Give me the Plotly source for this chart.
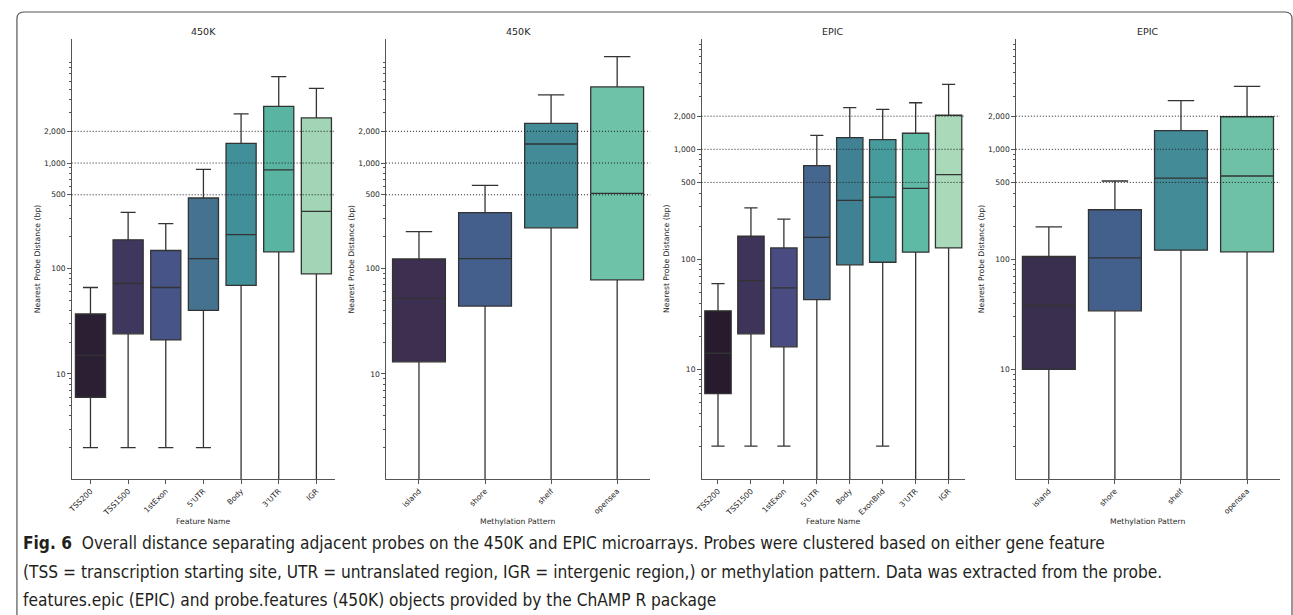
import plotly.graph_objects as go

W, H = 1293, 615

# ---------------- data ----------------
# Panel 1: 450K, gene feature
feat450_cats = ["TSS200", "TSS1500", "1stExon", "5'UTR", "Body", "3'UTR", "IGR"]
feat450_lower = [2, 2, 2, 2, 0, 0, 0]
feat450_q1 = [6.0, 24, 21, 40, 69, 144, 89]
feat450_median = [15, 72, 66, 124, 209, 860, 348]
feat450_q3 = [37, 187, 148, 466, 1540, 3450, 2680]
feat450_upper = [66, 340, 266, 870, 2930, 6610, 5120]
feat450_colors = ["#2b1f33", "#3f375e", "#465487", "#44728f", "#418f98", "#59b4a1", "#a2d5b5"]

# Panel 2: 450K, methylation pattern
meth450_cats = ["island", "shore", "shelf", "opensea"]
meth450_lower = [0, 0, 0, 0]
meth450_q1 = [13, 44, 243, 78]
meth450_median = [52, 124, 1517, 515]
meth450_q3 = [123, 338, 2380, 5280]
meth450_upper = [224, 614, 4440, 10240]
meth450_colors = ["#3c2f50", "#445f8c", "#428b97", "#6dc2a7"]

# Panel 3: EPIC, gene feature
featEPIC_cats = ["TSS200", "TSS1500", "1stExon", "5'UTR", "Body", "ExonBnd", "3'UTR", "IGR"]
featEPIC_lower = [2, 2, 2, 0, 0, 2, 0, 0]
featEPIC_q1 = [6.0, 21, 16, 43, 89, 94, 116, 127]
featEPIC_median = [14, 64, 55, 158, 344, 368, 442, 588]
featEPIC_q3 = [34, 162, 127, 710, 1275, 1222, 1400, 2040]
featEPIC_upper = [60, 294, 232, 1340, 2390, 2310, 2650, 3890]
featEPIC_colors = ["#271b2d", "#3e3358", "#484c80", "#45668e", "#418194", "#469c9d", "#5fbaa5", "#a9d9b9"]

# Panel 4: EPIC, methylation pattern
methEPIC_cats = ["island", "shore", "shelf", "opensea"]
methEPIC_lower = [0, 0, 0, 0]
methEPIC_q1 = [10, 34, 121, 117]
methEPIC_median = [38, 103, 548, 572]
methEPIC_q3 = [106, 282, 1476, 1977]
methEPIC_upper = [197, 515, 2770, 3740]
methEPIC_colors = ["#3b2f4f", "#435f8c", "#438b97", "#6ec1a6"]

panel_titles = ["450K", "450K", "EPIC", "EPIC"]
x_titles = ["Feature Name", "Methylation Pattern", "Feature Name", "Methylation Pattern"]
y_title = "Nearest Probe Distance (bp)"
ytick_vals = [10, 100, 500, 1000, 2000]
ytick_text = ["10", "100", "500", "1,000", "2,000"]
ref_lines = [500, 1000, 2000]
y_log_top = [4.174, 4.174, 4.0, 4.0]

caption_lines = [
    "<b>Fig. 6</b>  Overall distance separating adjacent probes on the 450K and EPIC microarrays. Probes were clustered based on either gene feature",
    "(TSS = transcription starting site, UTR = untranslated region, IGR = intergenic region,) or methylation pattern. Data was extracted from the probe.",
    "features.epic (EPIC) and probe.features (450K) objects provided by the ChAMP R package",
]

panels = [
    (feat450_cats, feat450_lower, feat450_q1, feat450_median, feat450_q3, feat450_upper, feat450_colors),
    (meth450_cats, meth450_lower, meth450_q1, meth450_median, meth450_q3, meth450_upper, meth450_colors),
    (featEPIC_cats, featEPIC_lower, featEPIC_q1, featEPIC_median, featEPIC_q3, featEPIC_upper, featEPIC_colors),
    (methEPIC_cats, methEPIC_lower, methEPIC_q1, methEPIC_median, methEPIC_q3, methEPIC_upper, methEPIC_colors),
]

# ---------------- layout geometry (pixels) ----------------
x_doms_px = [(65, 330), (381, 646.7), (698.3, 963.3), (1014.3, 1280)]
y_top_px, y_bot_px = 39.3, 479.3


def px(x):
    return x / W


def py(y):
    return 1 - y / H


FONT = "DejaVu Sans, Liberation Sans, sans-serif"
TXT = "#262626"
AX = "#555555"
EDGE = "#333333"

fig = go.Figure()
annotations = []
shapes = []

minor_vals = [m * 10 ** e for e in range(0, 5) for m in range(2, 10)]

for i, (cats, lo, q1, med, q3, up, cols) in enumerate(panels):
    k = i + 1
    xa = "x" if k == 1 else f"x{k}"
    ya = "y" if k == 1 else f"y{k}"
    for j, c in enumerate(cats):
        # a lower whisker of 0 cannot be shown on a log axis: it runs off the bottom
        lf = lo[j] if lo[j] > 0 else 0.1
        fig.add_trace(go.Box(
            x=[c], q1=[q1[j]], median=[med[j]], q3=[q3[j]],
            lowerfence=[lf], upperfence=[up[j]],
            fillcolor=cols[j], line=dict(color=EDGE, width=1.3),
            width=0.8, whiskerwidth=0.5, boxpoints=False,
            xaxis=xa, yaxis=ya, showlegend=False, hoverinfo="skip",
        ))
    x0, x1 = x_doms_px[i]
    fig.update_layout(**{
        ("xaxis" if k == 1 else f"xaxis{k}"): dict(
            domain=[px(x0), px(x1)], anchor=ya, type="category",
            categoryorder="array", categoryarray=cats,
            range=[-0.5, len(cats) - 0.5],
            showline=True, linecolor=AX, linewidth=1, mirror=False,
            ticks="outside", ticklen=3.5, tickcolor=AX, tickwidth=1,
            tickangle=-45, tickfont=dict(family=FONT, size=7.6, color=TXT),
            showgrid=False, zeroline=False,
        ),
        ("yaxis" if k == 1 else f"yaxis{k}"): dict(
            domain=[py(y_bot_px), py(y_top_px)], anchor=xa, type="log",
            range=[0, y_log_top[i]],
            tickmode="array", tickvals=ytick_vals, ticktext=ytick_text,
            showline=True, linecolor=AX, linewidth=1,
            ticks="outside", ticklen=3.5, tickcolor=AX, tickwidth=1,
            tickfont=dict(family=FONT, size=7.6, color=TXT),
            minor=dict(tickmode="array", tickvals=minor_vals, ticks="outside",
                       ticklen=2, tickcolor=AX, tickwidth=0.8, showgrid=False),
            showgrid=False, zeroline=False,
        ),
    })
    for v in ref_lines:
        shapes.append(dict(
            type="line", xref=f"{xa} domain", yref=ya, x0=0, x1=1, y0=v, y1=v,
            line=dict(color="#1a1a1a", width=1, dash="1px,2px"), layer="above",
        ))
    xc = (x0 + x1) / 2
    annotations.append(dict(
        text=panel_titles[i], xref="paper", yref="paper", x=px(xc), y=py(31),
        showarrow=False, xanchor="center", yanchor="middle",
        font=dict(family=FONT, size=9.5, color=TXT),
    ))
    annotations.append(dict(
        text=x_titles[i], xref="paper", yref="paper", x=px(xc), y=py(521),
        showarrow=False, xanchor="center", yanchor="middle",
        font=dict(family=FONT, size=7.7, color=TXT),
    ))
    annotations.append(dict(
        text=y_title, xref="paper", yref="paper", x=px(x0 - 35), y=py((y_top_px + y_bot_px) / 2),
        showarrow=False, xanchor="center", yanchor="middle", textangle=-90,
        font=dict(family=FONT, size=7.7, color=TXT),
    ))

CAP_FONT = "Liberation Sans Narrow, DejaVu Sans Condensed, Arial Narrow, Roboto, sans-serif"
for yy, line in zip([543, 572, 600], caption_lines):
    annotations.append(dict(
        text=line, xref="paper", yref="paper", x=px(14), y=py(yy),
        showarrow=False, xanchor="left", yanchor="middle",
        font=dict(family=CAP_FONT, size=17.2, color="#231f20"),
    ))

# figure frame (rounded top-left corner)
def P(x, y):
    return f"{px(x):.5f},{py(y):.5f}"

frame = (f"M {P(10, 640)} L {P(10, 19)} Q {P(10, 12)} {P(17, 12)} "
         f"L {P(1285, 12)} Q {P(1292, 12)} {P(1292, 19)} L {P(1292, 640)}")
shapes.append(dict(type="path", xref="paper", yref="paper", path=frame,
                   line=dict(color="#555555", width=1.2), layer="below"))

fig.update_layout(
    width=W, height=H, margin=dict(l=0, r=0, t=0, b=0),
    paper_bgcolor="white", plot_bgcolor="white",
    boxmode="overlay", showlegend=False,
    annotations=annotations, shapes=shapes,
)

fig.write_html(
    "out.html",
    config={"displayModeBar": False, "responsive": False},
    post_script="document.body.style.margin='0';document.body.style.overflow='hidden';",
)
